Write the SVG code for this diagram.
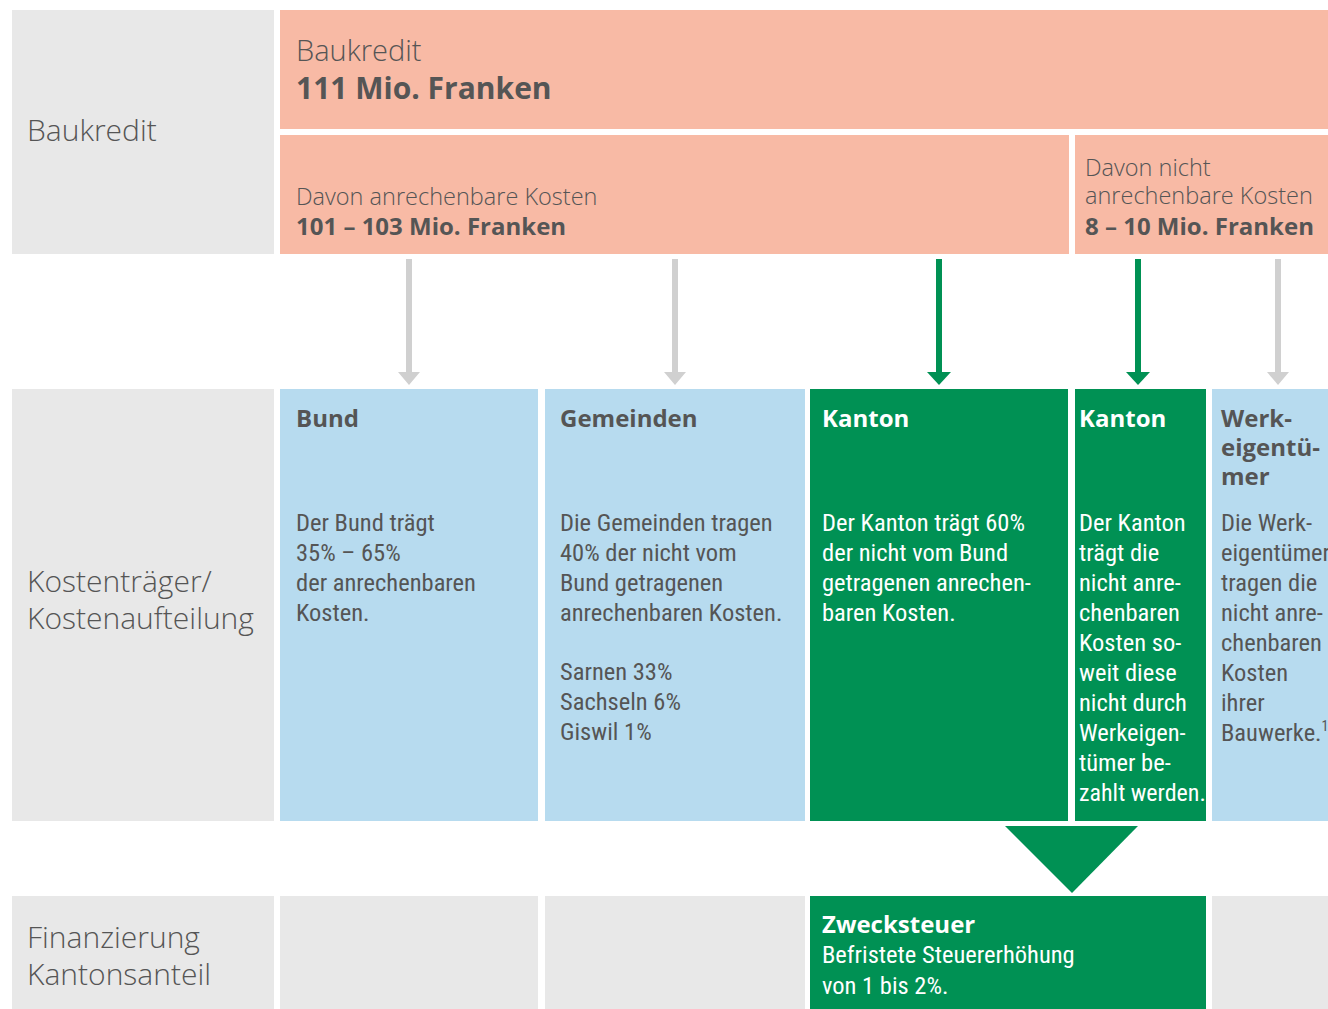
<svg xmlns="http://www.w3.org/2000/svg" width="1328" height="1009" viewBox="0 0 1328 1009">
<defs>
<style>
.gray{fill:#e8e8e8}
.sal{fill:#f8baa5}
.blue{fill:#b7dbef}
.green{fill:#009154}
.lbl{font-family:"Open Sans","Liberation Sans",sans-serif;font-weight:300;font-size:30px;fill:#555}
.hl{font-family:"Open Sans","Liberation Sans",sans-serif;font-weight:300;font-size:23.5px;fill:#555}
.hb{font-family:"Open Sans","Liberation Sans",sans-serif;font-weight:700;font-size:24px;fill:#555}
.big{font-family:"Open Sans","Liberation Sans",sans-serif;font-weight:700;font-size:30px;fill:#555}
.hd{font-family:"Open Sans","Liberation Sans",sans-serif;font-weight:700;font-size:24px;fill:#555}
.bd{font-family:"Liberation Sans Narrow","Roboto Condensed","DejaVu Sans Condensed","Liberation Sans",sans-serif;font-size:24.5px;fill:#555}
.w{fill:#fff}
.ag{stroke:#d0d0d0;stroke-width:6;fill:none}
.ae{stroke:#009154;stroke-width:6;fill:none}
</style>
</defs>

<g id="row-labels">
<g id="lbl-baukredit"><rect class="gray" x="12" y="10" width="262" height="244"/><text class="lbl" x="27" y="141">Baukredit</text></g>
<g id="lbl-kosten"><rect class="gray" x="12" y="389" width="262" height="432"/><text class="lbl" x="27" y="592">Kostenträger/</text><text class="lbl" x="27" y="629">Kostenaufteilung</text></g>
<g id="lbl-finanz"><rect class="gray" x="12" y="896" width="262" height="113"/><text class="lbl" x="27" y="948">Finanzierung</text><text class="lbl" x="27" y="985">Kantonsanteil</text></g>
</g>

<g id="n-baukredit"><rect class="sal" x="280" y="10" width="1048" height="119"/>
<text class="lbl" x="296" y="61" style="font-size:29px">Baukredit</text><text class="big" x="296" y="99">111 Mio. Franken</text></g>

<g id="n-anrechenbar"><rect class="sal" x="280" y="135" width="789" height="119"/>
<text class="hl" x="296" y="205">Davon anrechenbare Kosten</text><text class="hb" x="296" y="235">101 – 103 Mio. Franken</text></g>

<g id="n-nicht-anrechenbar"><rect class="sal" x="1075" y="135" width="253" height="119"/>
<text class="hl" x="1085" y="176">Davon nicht</text><text class="hl" x="1085" y="204">anrechenbare Kosten</text><text class="hb" x="1085" y="235">8 – 10 Mio. Franken</text></g>

<g id="connectors">
<line class="ag" x1="409" y1="259" x2="409" y2="374"/><path d="M398,372 L420,372 L409,385 Z" fill="#d0d0d0"/>
<line class="ag" x1="675" y1="259" x2="675" y2="374"/><path d="M664,372 L686,372 L675,385 Z" fill="#d0d0d0"/>
<line class="ae" x1="939" y1="259" x2="939" y2="374"/><path d="M927,372 L951,372 L939,385 Z" fill="#009154"/>
<line class="ae" x1="1138" y1="259" x2="1138" y2="374"/><path d="M1126,372 L1150,372 L1138,385 Z" fill="#009154"/>
<line class="ag" x1="1278" y1="259" x2="1278" y2="374"/><path d="M1267,372 L1289,372 L1278,385 Z" fill="#d0d0d0"/>
<path d="M1005,826 L1138,826 L1072,893 Z" fill="#009154"/>
</g>

<g id="n-bund"><rect class="blue" x="280" y="389" width="258" height="432"/>
<text class="hd" x="296" y="427">Bund</text>
<text class="bd" x="296" y="531">Der Bund trägt</text><text class="bd" x="296" y="561">35% – 65%</text><text class="bd" x="296" y="591">der anrechenbaren</text><text class="bd" x="296" y="621">Kosten.</text></g>

<g id="n-gemeinden"><rect class="blue" x="545" y="389" width="260" height="432"/>
<text class="hd" x="560" y="427">Gemeinden</text>
<text class="bd" x="560" y="531">Die Gemeinden tragen</text><text class="bd" x="560" y="561">40% der nicht vom</text><text class="bd" x="560" y="591">Bund getragenen</text><text class="bd" x="560" y="621">anrechenbaren Kosten.</text>
<text class="bd" x="560" y="680">Sarnen 33%</text><text class="bd" x="560" y="710">Sachseln 6%</text><text class="bd" x="560" y="740">Giswil 1%</text></g>

<g id="n-kanton1"><rect class="green" x="810" y="389" width="258" height="432"/>
<text class="hd w" x="822" y="427">Kanton</text>
<text class="bd w" x="822" y="531">Der Kanton trägt 60%</text><text class="bd w" x="822" y="561">der nicht vom Bund</text><text class="bd w" x="822" y="591">getragenen anrechen-</text><text class="bd w" x="822" y="621">baren Kosten.</text></g>

<g id="n-kanton2"><rect class="green" x="1075" y="389" width="131" height="432"/>
<text class="hd w" x="1079" y="427">Kanton</text>
<text class="bd w" x="1079" y="531">Der Kanton</text><text class="bd w" x="1079" y="561">trägt die</text><text class="bd w" x="1079" y="591">nicht anre-</text><text class="bd w" x="1079" y="621">chenbaren</text><text class="bd w" x="1079" y="651">Kosten so-</text><text class="bd w" x="1079" y="681">weit diese</text><text class="bd w" x="1079" y="711">nicht durch</text><text class="bd w" x="1079" y="741">Werkeigen-</text><text class="bd w" x="1079" y="771">tümer be-</text><text class="bd w" x="1079" y="801" style="font-size:24px">zahlt werden.</text></g>

<g id="n-werk"><rect class="blue" x="1212" y="389" width="116" height="432"/>
<text class="hd" x="1221" y="427">Werk-</text><text class="hd" x="1221" y="456">eigentü-</text><text class="hd" x="1221" y="485">mer</text>
<text class="bd" x="1221" y="531">Die Werk-</text><text class="bd" x="1221" y="561">eigentümer</text><text class="bd" x="1221" y="591">tragen die</text><text class="bd" x="1221" y="621">nicht anre-</text><text class="bd" x="1221" y="651">chenbaren</text><text class="bd" x="1221" y="681">Kosten</text><text class="bd" x="1221" y="711">ihrer</text><text class="bd" x="1221" y="741">Bauwerke.<tspan font-size="14" dy="-10">1</tspan></text></g>

<g id="bottom-empty">
<rect class="gray" x="280" y="896" width="258" height="113"/>
<rect class="gray" x="545" y="896" width="260" height="113"/>
<rect class="gray" x="1212" y="896" width="116" height="113"/>
</g>

<g id="n-zwecksteuer"><rect class="green" x="810" y="896" width="396" height="113"/>
<text class="hd w" x="822" y="933">Zwecksteuer</text>
<text class="bd w" x="822" y="963">Befristete Steuererhöhung</text><text class="bd w" x="822" y="994">von 1 bis 2%.</text></g>
</svg>
